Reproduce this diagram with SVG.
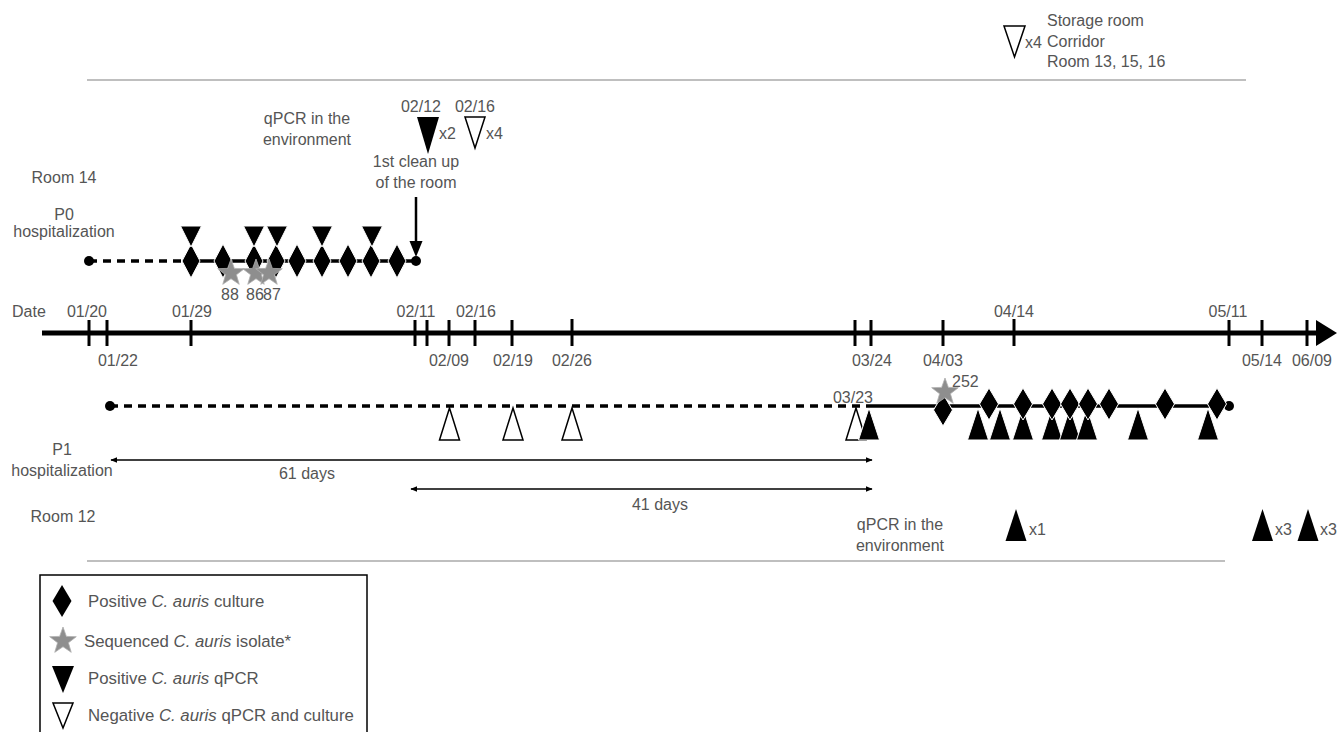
<svg xmlns="http://www.w3.org/2000/svg" width="1337" height="732" viewBox="0 0 1337 732">
<style>
text{font-family:"Liberation Sans",Arial,sans-serif;font-size:16px;fill:#555}
.c{text-anchor:middle}
.lg{font-size:16.8px}
.tick{stroke:#000;stroke-width:3}
.gray{stroke:#aaa;stroke-width:1.5;fill:none}
.row{stroke:#000;stroke-width:3.5;fill:none}
.dash{stroke-dasharray:8 6}
.blk{fill:#000;stroke:#fff;stroke-width:1}
.hol{fill:#fff;stroke:#000;stroke-width:1.5}
.star{fill:#8e8e8e;stroke:#b0b0b0;stroke-width:0.8}
.thin{stroke:#000;stroke-width:1.5;fill:none}
</style>
<defs>
<path id="dia" d="M0,-17 L9,0 L0,17 L-9,0 Z"/>
<path id="dia2" d="M0,-16 L9.5,0 L0,16 L-9.5,0 Z"/>
<path id="star" d="M0,-14 L3.36,-4.62 L13.31,-4.33 L5.43,1.77 L8.23,11.33 L0,5.7 L-8.23,11.33 L-5.43,1.77 L-13.31,-4.33 L-3.36,-4.62 Z"/>
<path id="dtri" d="M-10.5,0 L10.5,0 L0,21 Z"/>
<path id="utri" d="M-10.5,0 L10.5,0 L0,-32 Z"/>
<marker id="ah" viewBox="0 0 10 10" refX="9" refY="5" markerWidth="7" markerHeight="7" orient="auto-start-reverse" markerUnits="userSpaceOnUse">
<path d="M0,1 L10,5 L0,9 Z" fill="#000"/>
</marker>
</defs>

<g id="separators">
<line class="gray" x1="87" y1="80" x2="1246" y2="80"/>
<line class="gray" x1="87" y1="561" x2="1225" y2="561"/>
</g>

<g id="storage-note">
<polygon class="hol" points="1004,26 1025,26 1014.5,57"/>
<text x="1025" y="48">x4</text>
<text x="1047" y="26">Storage room</text>
<text x="1047" y="47">Corridor</text>
<text x="1047" y="67">Room 13, 15, 16</text>
</g>

<g id="top-env">
<text class="c" x="307" y="124">qPCR in the</text>
<text class="c" x="307" y="145">environment</text>
<text class="c" x="421" y="112">02/12</text>
<polygon points="417,117 439,117 428,154" fill="#000"/>
<text x="439" y="139">x2</text>
<text class="c" x="475" y="112">02/16</text>
<polygon class="hol" points="465,117 485,117 475,148"/>
<text x="486" y="139">x4</text>
<text class="c" x="416" y="167">1st clean up</text>
<text class="c" x="416" y="188">of the room</text>
</g>

<g id="labels-left">
<text class="c" x="64" y="183">Room 14</text>
<text class="c" x="64" y="220">P0</text>
<text class="c" x="64" y="237">hospitalization</text>
<text class="c" x="62" y="455">P1</text>
<text class="c" x="62" y="476">hospitalization</text>
<text class="c" x="63" y="522">Room 12</text>
</g>

<g id="connectors">
<line x1="416" y1="197" x2="416" y2="245" stroke="#000" stroke-width="2.5"/>
<polygon points="409.5,241 422.5,241 416,257" fill="#000"/>
<line class="thin" x1="111" y1="460" x2="872" y2="460" marker-start="url(#ah)" marker-end="url(#ah)"/>
<line class="thin" x1="411" y1="489" x2="872" y2="489" marker-start="url(#ah)" marker-end="url(#ah)"/>
</g>

<g id="day-spans">
<text class="c" x="307" y="479">61 days</text>
<text class="c" x="660" y="510">41 days</text>
</g>

<g id="p0-row">
<line class="row dash" x1="89" y1="261" x2="190" y2="261"/>
<line class="row" x1="190" y1="261" x2="416" y2="261"/>
<circle cx="89" cy="261" r="5"/>
<circle cx="416" cy="261" r="5"/>
<use href="#dia" class="blk" x="191" y="261"/>
<use href="#dia" class="blk" x="223" y="261"/>
<use href="#dia" class="blk" x="254" y="261"/>
<use href="#dia" class="blk" x="276" y="261"/>
<use href="#dia" class="blk" x="297" y="261"/>
<use href="#dia" class="blk" x="322" y="261"/>
<use href="#dia" class="blk" x="348" y="261"/>
<use href="#dia" class="blk" x="371" y="261"/>
<use href="#dia" class="blk" x="397" y="261"/>
<use href="#dtri" class="blk" x="191" y="226"/>
<use href="#dtri" class="blk" x="254" y="226"/>
<use href="#dtri" class="blk" x="277" y="226"/>
<use href="#dtri" class="blk" x="322" y="226"/>
<use href="#dtri" class="blk" x="372" y="226"/>
<use href="#star" class="star" x="231" y="273"/>
<use href="#star" class="star" x="256" y="273"/>
<use href="#star" class="star" x="269" y="273"/>
<text class="c" x="230" y="300">88</text>
<text class="c" x="255" y="300">86</text>
<text class="c" x="272" y="300">87</text>
</g>

<g id="timeline">
<line x1="42" y1="333" x2="1320" y2="333" stroke="#000" stroke-width="5"/>
<polygon points="1316,320 1337,333 1316,346" fill="#000"/>
<line class="tick" x1="89" y1="320" x2="89" y2="346"/>
<line class="tick" x1="107" y1="320" x2="107" y2="346"/>
<line class="tick" x1="191" y1="320" x2="191" y2="346"/>
<line class="tick" x1="415" y1="320" x2="415" y2="346"/>
<line class="tick" x1="427" y1="320" x2="427" y2="346"/>
<line class="tick" x1="449" y1="320" x2="449" y2="346"/>
<line class="tick" x1="475" y1="320" x2="475" y2="346"/>
<line class="tick" x1="512" y1="320" x2="512" y2="346"/>
<line class="tick" x1="572" y1="319" x2="572" y2="346"/>
<line class="tick" x1="855" y1="320" x2="855" y2="346"/>
<line class="tick" x1="871" y1="320" x2="871" y2="346"/>
<line class="tick" x1="943" y1="320" x2="943" y2="346"/>
<line class="tick" x1="1014" y1="319" x2="1014" y2="346"/>
<line class="tick" x1="1229" y1="320" x2="1229" y2="346"/>
<line class="tick" x1="1262" y1="320" x2="1262" y2="346"/>
<line class="tick" x1="1307" y1="320" x2="1307" y2="346"/>
<text x="12" y="317">Date</text>
<text class="c" x="87" y="317">01/20</text>
<text class="c" x="192" y="317">01/29</text>
<text class="c" x="416" y="317">02/11</text>
<text class="c" x="476" y="317">02/16</text>
<text class="c" x="1014" y="317">04/14</text>
<text class="c" x="1228" y="317">05/11</text>
<text class="c" x="118" y="366">01/22</text>
<text class="c" x="449" y="366">02/09</text>
<text class="c" x="513" y="366">02/19</text>
<text class="c" x="572" y="366">02/26</text>
<text class="c" x="872" y="366">03/24</text>
<text class="c" x="943" y="366">04/03</text>
<text class="c" x="1262" y="366">05/14</text>
<text class="c" x="1312" y="366">06/09</text>
</g>

<g id="p1-row">
<line class="row dash" x1="110" y1="406" x2="872" y2="406"/>
<line class="row" x1="872" y1="406" x2="1229" y2="406"/>
<circle cx="110" cy="406" r="5"/>
<circle cx="1229" cy="406" r="5"/>
<text class="c" x="853" y="403">03/23</text>
<polygon class="hol" points="439.5,440 459.5,440 449.5,408"/>
<polygon class="hol" points="503,440 523,440 513,408"/>
<polygon class="hol" points="562,440 582,440 572,408"/>
<polygon class="hol" points="846,440 866,440 856,408"/>
<use href="#utri" class="blk" x="869" y="440"/>
<use href="#utri" class="blk" x="978" y="440"/>
<use href="#utri" class="blk" x="1000" y="440"/>
<use href="#utri" class="blk" x="1023" y="440"/>
<use href="#utri" class="blk" x="1052" y="440"/>
<use href="#utri" class="blk" x="1070" y="440"/>
<use href="#utri" class="blk" x="1087" y="440"/>
<use href="#utri" class="blk" x="1138" y="440"/>
<use href="#utri" class="blk" x="1208" y="440"/>
<use href="#dia2" class="blk" x="943" y="410"/>
<use href="#dia2" class="blk" x="989" y="404"/>
<use href="#dia2" class="blk" x="1023" y="404"/>
<use href="#dia2" class="blk" x="1052" y="404"/>
<use href="#dia2" class="blk" x="1070" y="404"/>
<use href="#dia2" class="blk" x="1088" y="404"/>
<use href="#dia2" class="blk" x="1109" y="404"/>
<use href="#dia2" class="blk" x="1165" y="404"/>
<use href="#dia2" class="blk" x="1217" y="404"/>
<use href="#star" class="star" x="945" y="392"/>
<text x="952" y="387">252</text>
</g>

<g id="bottom-env">
<text class="c" x="900" y="530">qPCR in the</text>
<text class="c" x="900" y="551">environment</text>
<use href="#utri" x="1016" y="541"/>
<text x="1029" y="535">x1</text>
<use href="#utri" x="1262.5" y="541"/>
<text x="1275" y="535">x3</text>
<use href="#utri" x="1308" y="541"/>
<text x="1320" y="535">x3</text>
</g>

<g id="legend">
<rect x="40" y="575" width="327" height="170" fill="none" stroke="#000" stroke-width="1.5"/>
<use href="#dia2" x="62" y="601"/>
<text class="lg" x="88" y="607">Positive <tspan font-style="italic">C. auris</tspan> culture</text>
<use href="#star" class="star" x="63" y="641"/>
<text class="lg" x="84" y="647">Sequenced <tspan font-style="italic">C. auris</tspan> isolate*</text>
<polygon points="52,666 74,666 63,693" fill="#000"/>
<text class="lg" x="88" y="684">Positive <tspan font-style="italic">C. auris</tspan> qPCR</text>
<polygon class="hol" points="53,703 73,703 63,728"/>
<text class="lg" x="88" y="721">Negative <tspan font-style="italic">C. auris</tspan> qPCR and culture</text>
</g>
</svg>
